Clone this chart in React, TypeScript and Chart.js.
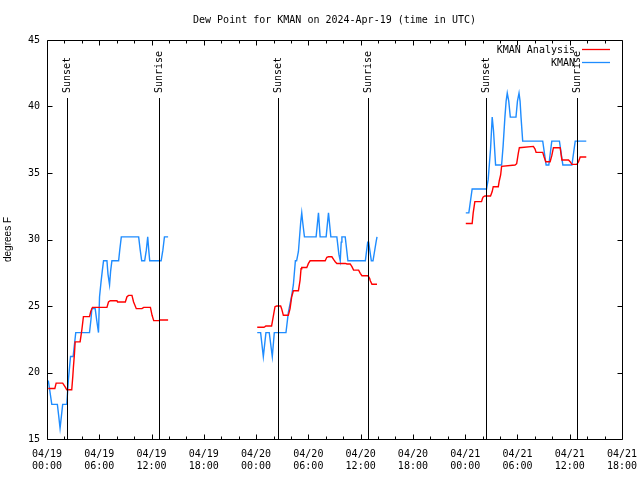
import React, { useEffect, useRef } from 'react';
import { Chart, registerables } from 'chart.js';

Chart.register(...registerables);

// ---------- text ----------
const TITLE = 'Dew Point for KMAN on 2024-Apr-19 (time in UTC)';
const Y_TITLE = 'degrees F';
const seriesNames = ['KMAN Analysis', 'KMAN'];
const seriesColors = ['#ff0000', '#1e8cff'];

// x axis: hours since 04/19 00:00 UTC
const X_MIN = 0;
const X_MAX = 66;
const xTickLabels = [
  ['04/19', '00:00'], ['04/19', '06:00'], ['04/19', '12:00'], ['04/19', '18:00'],
  ['04/20', '00:00'], ['04/20', '06:00'], ['04/20', '12:00'], ['04/20', '18:00'],
  ['04/21', '00:00'], ['04/21', '06:00'], ['04/21', '12:00'], ['04/21', '18:00'],
];
const yTicks = [15, 20, 25, 30, 35, 40, 45];

// sunrise / sunset markers (hours since 04/19 00:00 UTC)
const sunHours = [2.33, 12.89, 26.48, 36.88, 50.39, 60.87];
const sunLabels = ['Sunset', 'Sunrise', 'Sunset', 'Sunrise', 'Sunset', 'Sunrise'];

// ---------- data: [hour, dew point F] ----------
const analysisSeg1 = [
  [0.15, 18.8], [0.9, 18.8], [1.05, 19.2], [1.8, 19.2], [2.1, 18.9], [2.27, 18.7], [2.84, 18.7],
  [2.96, 19.7], [3.03, 20.4], [3.15, 21.4], [3.23, 22.3], [3.8, 22.3], [4.0, 23.2], [4.18, 24.2],
  [4.88, 24.2], [5.03, 24.6], [5.22, 24.9], [6.88, 24.9], [7.06, 25.3], [7.26, 25.4], [8.03, 25.4],
  [8.1, 25.3], [8.99, 25.3], [9.18, 25.7], [9.37, 25.8], [9.75, 25.8], [9.94, 25.3], [10.25, 24.8],
  [10.9, 24.8], [11.1, 24.9], [11.87, 24.9], [12.06, 24.3], [12.25, 23.9], [12.83, 23.9],
  [13.0, 23.95], [13.9, 23.95],
];
const analysisSeg2 = [
  [24.13, 23.4], [24.9, 23.4], [25.02, 23.45], [25.13, 23.5], [25.78, 23.5], [25.97, 24.2],
  [26.17, 24.95], [26.36, 25.0], [26.82, 25.0], [26.93, 24.8], [27.13, 24.3], [27.7, 24.3],
  [27.9, 24.8], [28.09, 25.7], [28.28, 26.15], [28.86, 26.15], [29.05, 26.95], [29.16, 27.8],
  [29.24, 27.9], [29.82, 27.9], [30.01, 28.2], [30.2, 28.4], [31.93, 28.4], [32.12, 28.66],
  [32.31, 28.7], [32.7, 28.7], [32.89, 28.5], [33.08, 28.33], [33.27, 28.2], [34.23, 28.2],
  [34.43, 28.16], [34.8, 28.16], [35.0, 27.96], [35.19, 27.7], [35.77, 27.7], [35.96, 27.46],
  [36.15, 27.28], [36.84, 27.28], [37.03, 27.08], [37.11, 26.9], [37.3, 26.63], [37.88, 26.63],
];
const analysisSeg3 = [
  [48.07, 31.2], [48.8, 31.2], [48.92, 32.0], [49.11, 32.85], [49.88, 32.85], [49.99, 33.1],
  [50.07, 33.2], [50.26, 33.27], [50.91, 33.27], [51.1, 33.6], [51.22, 33.97], [51.8, 33.97],
  [51.91, 34.4], [52.07, 34.85], [52.18, 35.5], [53.72, 35.6], [53.91, 35.7], [54.1, 36.5],
  [54.22, 36.9], [55.83, 37.0], [56.02, 36.8], [56.14, 36.55], [56.9, 36.55], [57.06, 36.2],
  [57.25, 35.85], [57.75, 35.85], [57.94, 36.3], [58.13, 36.9], [58.9, 36.9], [59.1, 35.98],
  [59.86, 35.98], [60.05, 35.85], [60.25, 35.65], [60.82, 35.65], [61.01, 35.85], [61.2, 36.2],
  [61.9, 36.2],
];

const stationSeg1 = [
  [0.15, 19.4], [0.55, 17.6], [1.19, 17.6], [1.35, 16.7], [1.5, 15.8], [1.65, 16.7], [1.8, 17.6],
  [2.27, 17.6], [2.45, 19.4], [2.7, 21.2], [3.0, 21.2], [3.3, 23.0], [4.88, 23.0], [5.05, 24.0],
  [5.15, 24.8], [5.53, 24.8], [5.7, 23.95], [5.91, 23.0], [6.03, 25.7], [6.2, 26.8], [6.34, 27.6],
  [6.49, 28.4], [6.88, 28.4], [7.0, 27.4], [7.18, 26.6], [7.3, 27.6], [7.45, 28.4], [8.22, 28.4],
  [8.35, 29.2], [8.53, 30.2], [10.52, 30.2], [10.7, 29.2], [10.87, 28.4], [11.21, 28.4],
  [11.4, 29.2], [11.56, 30.2], [11.68, 29.2], [11.79, 28.4], [13.1, 28.4], [13.3, 29.2],
  [13.48, 30.2], [13.9, 30.2],
];
const stationSeg2 = [
  [24.13, 23.0], [24.52, 23.0], [24.83, 21.2], [25.13, 23.0], [25.51, 23.0], [25.86, 21.2],
  [26.09, 23.0], [27.43, 23.0], [27.7, 24.5], [28.09, 25.8], [28.28, 26.6], [28.51, 28.4],
  [28.65, 28.4], [28.86, 29.1], [29.12, 31.3], [29.24, 32.0], [29.35, 31.3], [29.55, 30.2],
  [30.89, 30.2], [31.16, 32.0], [31.35, 30.2], [32.04, 30.2], [32.31, 32.0], [32.58, 30.2],
  [33.27, 30.2], [33.5, 28.9], [33.66, 28.4], [33.77, 29.8], [33.85, 30.2], [34.23, 30.2],
  [34.54, 28.4], [36.54, 28.4], [36.81, 29.8], [36.92, 29.8], [37.23, 28.4], [37.42, 28.4],
  [37.77, 29.8], [37.88, 30.2],
];
const stationSeg3 = [
  [48.07, 32.0], [48.42, 32.0], [48.8, 33.8], [50.45, 33.8], [50.64, 34.5], [50.91, 36.8],
  [51.1, 39.2], [51.25, 38.2], [51.49, 35.6], [52.18, 35.6], [52.35, 37.0], [52.56, 39.2],
  [52.7, 40.4], [52.83, 41.0], [53.0, 40.4], [53.18, 39.2], [53.83, 39.2], [54.0, 40.4],
  [54.18, 41.0], [54.3, 40.4], [54.41, 39.2], [54.6, 37.4], [56.9, 37.4], [57.29, 35.6],
  [57.6, 35.6], [57.94, 37.4], [58.82, 37.4], [59.21, 35.6], [60.25, 35.6], [60.63, 37.4],
  [61.9, 37.4],
];

const MONO = "'DejaVu Sans Mono', monospace";
const SANS = "'Liberation Sans', Arial, sans-serif";

function joinSegments(segs: number[][][]) {
  const out: { x: number; y: number | null }[] = [];
  segs.forEach((s, i) => {
    if (i > 0) {
      const prev = segs[i - 1];
      out.push({ x: (prev[prev.length - 1][0] + s[0][0]) / 2, y: null });
    }
    s.forEach(([x, y]) => out.push({ x, y }));
  });
  return out;
}

const gnuplotFrame = {
  id: 'gnuplotFrame',
  afterDatasetsDraw(chart: any) {
    const { ctx, chartArea: a, scales } = chart;
    const xs = scales.x;
    ctx.save();
    ctx.strokeStyle = '#000';
    ctx.fillStyle = '#000';
    ctx.lineWidth = 1;
    ctx.font = `10px ${MONO}`;
    sunHours.forEach((h, i) => {
      const px = Math.round(xs.getPixelForValue(h)) + 0.5;
      ctx.beginPath();
      ctx.moveTo(px, a.bottom);
      ctx.lineTo(px, a.top + 58);
      ctx.stroke();
      ctx.save();
      ctx.translate(px, a.top + 53);
      ctx.rotate(-Math.PI / 2);
      ctx.textAlign = 'left';
      ctx.textBaseline = 'middle';
      ctx.fillText(sunLabels[i], 0, 0);
      ctx.restore();
    });
    ctx.restore();
  },
  afterDraw(chart: any) {
    const { ctx, chartArea: a, scales } = chart;
    const xs = scales.x;
    const ys = scales.y;
    const L = Math.round(a.left) + 0.5;
    const R = Math.round(a.right) + 0.5;
    const T = Math.round(a.top) + 0.5;
    const B = Math.round(a.bottom) + 0.5;
    ctx.save();
    ctx.strokeStyle = '#000';
    ctx.fillStyle = '#000';
    ctx.lineWidth = 1;
    ctx.beginPath();
    ctx.rect(L, T, R - L, B - T);
    ctx.stroke();
    // x ticks (major every 6 h, minor every 2 h), inward, top and bottom
    ctx.beginPath();
    for (let h = X_MIN + 2; h < X_MAX; h += 2) {
      const px = Math.round(xs.getPixelForValue(h)) + 0.5;
      const len = h % 6 === 0 ? 5 : 3;
      ctx.moveTo(px, B);
      ctx.lineTo(px, B - len);
      ctx.moveTo(px, T);
      ctx.lineTo(px, T + len);
    }
    // y ticks
    yTicks.forEach((v) => {
      const py = Math.round(ys.getPixelForValue(v)) + 0.5;
      ctx.moveTo(L, py);
      ctx.lineTo(L + 5, py);
      ctx.moveTo(R, py);
      ctx.lineTo(R - 5, py);
    });
    ctx.stroke();

    // title
    ctx.font = `10px ${MONO}`;
    ctx.textAlign = 'center';
    ctx.textBaseline = 'middle';
    ctx.fillText(TITLE, (a.left + a.right) / 2, 20);

    // legend (gnuplot style: text then line sample)
    seriesNames.forEach((name, i) => {
      const yy = a.top + 9.5 + i * 13;
      ctx.textAlign = 'right';
      ctx.fillStyle = '#000';
      ctx.fillText(name, a.right - 47, yy + 0.5);
      ctx.strokeStyle = seriesColors[i];
      ctx.lineWidth = 1.3;
      ctx.beginPath();
      ctx.moveTo(a.right - 40, yy);
      ctx.lineTo(a.right - 12, yy);
      ctx.stroke();
    });
    ctx.restore();
  },
};

export default function App() {
  const canvasRef = useRef<HTMLCanvasElement | null>(null);

  useEffect(() => {
    if (!canvasRef.current) return;
    const chart = new Chart(canvasRef.current, {
      type: 'line',
      data: {
        datasets: [
          {
            label: seriesNames[0],
            data: joinSegments([analysisSeg1, analysisSeg2, analysisSeg3]),
            borderColor: seriesColors[0],
            borderWidth: 1.4,
            pointRadius: 0,
            tension: 0,
            spanGaps: false,
            fill: false,
          },
          {
            label: seriesNames[1],
            data: joinSegments([stationSeg1, stationSeg2, stationSeg3]),
            borderColor: seriesColors[1],
            borderWidth: 1.4,
            pointRadius: 0,
            tension: 0,
            spanGaps: false,
            fill: false,
          },
        ],
      },
      options: {
        animation: false,
        responsive: false,
        devicePixelRatio: 1,
        layout: { padding: { top: 40, right: 18, left: 0, bottom: 0 } },
        plugins: {
          legend: { display: false },
          title: { display: false },
          tooltip: { enabled: false },
        },
        scales: {
          x: {
            type: 'linear',
            min: X_MIN,
            max: X_MAX,
            grid: { display: false, drawTicks: false },
            border: { display: false },
            afterFit: (s: any) => {
              s.height = 41;
              s.paddingLeft = 0;
              s.paddingRight = 0;
            },
            ticks: {
              stepSize: 6,
              autoSkip: false,
              maxRotation: 0,
              padding: 9,
              color: '#000',
              font: { family: MONO, size: 10, lineHeight: 1.25 },
              callback: (_v: any, i: number) => xTickLabels[i],
            },
          },
          y: {
            type: 'linear',
            min: yTicks[0],
            max: yTicks[yTicks.length - 1],
            grid: { display: false, drawTicks: false },
            border: { display: false },
            afterFit: (s: any) => {
              s.width = 47;
              s.paddingTop = 0;
              s.paddingBottom = 0;
            },
            title: {
              display: true,
              text: Y_TITLE,
              color: '#000',
              font: { family: SANS, size: 10 },
              padding: { top: 2, bottom: 0 },
            },
            ticks: {
              stepSize: 5,
              padding: 7,
              color: '#000',
              font: { family: MONO, size: 10 },
            },
          },
        },
      },
      plugins: [gnuplotFrame],
    } as any);
    return () => chart.destroy();
  }, []);

  return (
    <div style={{ position: 'fixed', left: 0, top: 0, width: 640, height: 480, background: '#fff' }}>
      <canvas ref={canvasRef} width={640} height={480} style={{ display: 'block' }} />
    </div>
  );
}
